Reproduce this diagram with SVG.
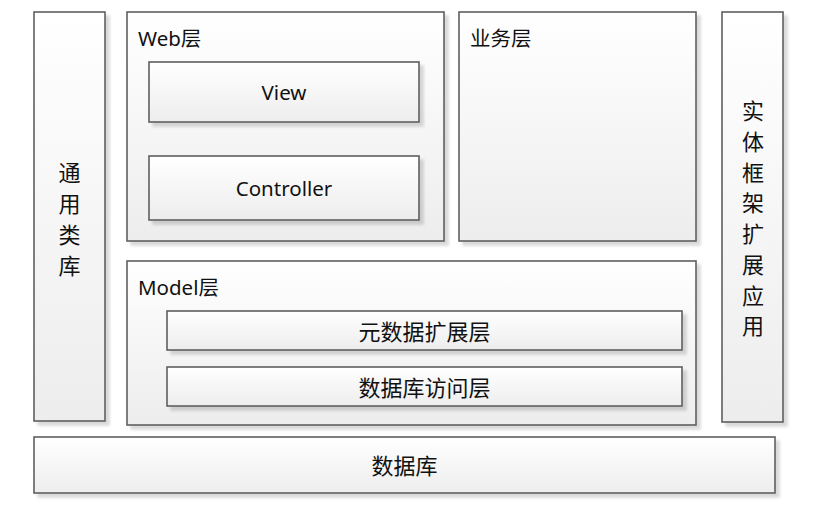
<svg xmlns="http://www.w3.org/2000/svg" width="828" height="513" viewBox="0 0 828 513">
<defs>
<linearGradient id="g" x1="0" y1="0" x2="0" y2="1">
<stop offset="0" stop-color="#ffffff"/>
<stop offset="1" stop-color="#ededed"/>
</linearGradient>
<filter id="sh" x="-10%" y="-10%" width="130%" height="130%">
<feOffset dx="4" dy="4" in="SourceAlpha" result="o"/>
<feGaussianBlur in="o" stdDeviation="1.5" result="b"/>
<feComponentTransfer in="b" result="c"><feFuncA type="linear" slope="0.15"/></feComponentTransfer>
<feMerge><feMergeNode in="c"/><feMergeNode in="SourceGraphic"/></feMerge>
</filter>
</defs>
<style>
.box{fill:url(#g);stroke:#5f5f5f;stroke-width:1.6;filter:url(#sh)}
text{font-family:"Noto Sans","Noto Sans CJK SC",sans-serif;fill:#111;font-size:20.5px}
.c{text-anchor:middle;dominant-baseline:central}
.cn{font-size:22px}
</style>
<rect width="828" height="513" fill="#fff"/>
<g id="common">
<rect class="box" x="34" y="12" width="71" height="409"/>
<text class="c cn" x="69.5" y="172">通</text>
<text class="c cn" x="69.5" y="203">用</text>
<text class="c cn" x="69.5" y="234">类</text>
<text class="c cn" x="69.5" y="265">库</text>
</g>
<g id="web">
<rect class="box" x="127" y="12" width="317" height="229"/>
<text x="138" y="46">Web层</text>
</g>
<g id="view">
<rect class="box" x="149" y="62" width="270" height="60"/>
<text class="c" x="284" y="92">View</text>
</g>
<g id="controller">
<rect class="box" x="149" y="156" width="270" height="64"/>
<text class="c" x="284" y="188">Controller</text>
</g>
<g id="business">
<rect class="box" x="459" y="12" width="237" height="229"/>
<text x="470" y="46">业务层</text>
</g>
<g id="ef">
<rect class="box" x="722" y="12" width="61" height="410"/>
<text class="c cn" x="753" y="110">实</text>
<text class="c cn" x="753" y="141">体</text>
<text class="c cn" x="753" y="171.5">框</text>
<text class="c cn" x="753" y="202">架</text>
<text class="c cn" x="753" y="233">扩</text>
<text class="c cn" x="753" y="264">展</text>
<text class="c cn" x="753" y="294.5">应</text>
<text class="c cn" x="753" y="325">用</text>
</g>
<g id="model">
<rect class="box" x="127" y="261" width="569" height="164"/>
<text x="138" y="295">Model层</text>
</g>
<g id="meta">
<rect class="box" x="167" y="311" width="515" height="39"/>
<text class="c cn" x="424.5" y="331">元数据扩展层</text>
</g>
<g id="dal">
<rect class="box" x="167" y="367" width="515" height="39"/>
<text class="c cn" x="424.5" y="387">数据库访问层</text>
</g>
<g id="db">
<rect class="box" x="34" y="437" width="741" height="56"/>
<text class="c cn" x="404.5" y="465">数据库</text>
</g>
<g id="connectors"></g>
</svg>
